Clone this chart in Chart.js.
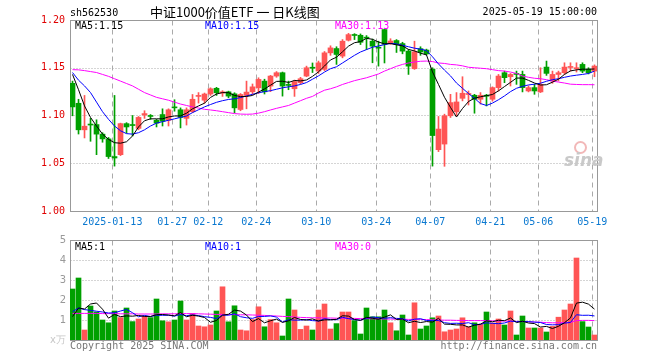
<!DOCTYPE html>
<html><head><meta charset="utf-8">
<script src="https://cdn.jsdelivr.net/npm/chart.js@4.4.1/dist/chart.umd.min.js"></script>
<style>
html,body{margin:0;padding:0;background:#fff;}
#wrap{position:relative;width:660px;height:360px;overflow:hidden;background:#fff;}
canvas{position:absolute;left:0;}
.t{position:absolute;white-space:pre;font-family:'DejaVu Sans Mono',monospace;font-size:10px;line-height:12px;color:#000;}
</style></head><body>
<div id="wrap">
<canvas id="k" width="660" height="236" style="top:0px"></canvas>
<canvas id="v" width="660" height="130" style="top:230px"></canvas>
<div class="t" style="left:70px;top:7px;">sh562530</div>
<div class="t" style="left:150px;top:3px;font-family:'Noto Sans CJK SC',sans-serif;font-size:13px;line-height:18px;">中证1000价值ETF 一 日K线图</div>
<div class="t" style="right:63px;top:6px;">2025-05-19 15:00:00</div>
<div class="t" id="l1" style="left:75px;top:20px;"></div>
<div class="t" id="l2" style="left:205px;top:20px;color:#0000ff;"></div>
<div class="t" id="l3" style="left:335px;top:20px;color:#ff00ff;"></div>
<div class="t" id="v1" style="left:75px;top:241px;"></div>
<div class="t" id="v2" style="left:205px;top:241px;color:#0000ff;"></div>
<div class="t" id="v3" style="left:335px;top:241px;color:#ff00ff;"></div>
<div class="t" style="left:70px;top:340px;color:#777;">Copyright 2025 SINA.COM</div>
<div class="t" style="right:63px;top:340px;color:#777;">http://finance.sina.com.cn</div>
<div style="position:absolute;left:574px;top:141px;width:9px;height:9px;border:2px solid #f2b8b8;border-radius:50%;"></div>
<div class="t" style="left:564px;top:150px;font-family:'DejaVu Sans',sans-serif;font-size:17px;line-height:20px;font-style:italic;font-weight:bold;color:#c9c9c9;">sina</div>
</div>
<script>
const dates = ['2025-01-02','2025-01-03','2025-01-06','2025-01-07','2025-01-08','2025-01-09','2025-01-10','2025-01-13','2025-01-14','2025-01-15','2025-01-16','2025-01-17','2025-01-20','2025-01-21','2025-01-22','2025-01-23','2025-01-24','2025-01-27',
'2025-02-05','2025-02-06','2025-02-07','2025-02-10','2025-02-11','2025-02-12','2025-02-13','2025-02-14','2025-02-17','2025-02-18','2025-02-19','2025-02-20','2025-02-21','2025-02-24','2025-02-25','2025-02-26','2025-02-27','2025-02-28',
'2025-03-03','2025-03-04','2025-03-05','2025-03-06','2025-03-07','2025-03-10','2025-03-11','2025-03-12','2025-03-13','2025-03-14','2025-03-17','2025-03-18','2025-03-19','2025-03-20','2025-03-21','2025-03-24','2025-03-25','2025-03-26','2025-03-27','2025-03-28','2025-03-31',
'2025-04-01','2025-04-02','2025-04-03','2025-04-07','2025-04-08','2025-04-09','2025-04-10','2025-04-11','2025-04-14','2025-04-15','2025-04-16','2025-04-17','2025-04-18','2025-04-21','2025-04-22','2025-04-23','2025-04-24','2025-04-25','2025-04-28','2025-04-29','2025-04-30',
'2025-05-06','2025-05-07','2025-05-08','2025-05-09','2025-05-12','2025-05-13','2025-05-14','2025-05-15','2025-05-16','2025-05-19'];
const open = [1.1337,1.1128,1.085,1.091,1.0905,1.0805,1.0755,1.057,1.059,1.0915,
 1.0905,1.0865,1.1005,1.100,1.095,1.101,1.095,1.109,1.106,1.097,
 1.104,1.120,1.116,1.1225,1.1285,1.1235,1.1248,1.1227,1.1063,1.121,
 1.1248,1.129,1.136,1.1308,1.1413,1.1448,1.1325,1.128,1.1344,1.1413,
 1.1505,1.1465,1.1483,1.1656,1.1701,1.1622,1.1788,1.1845,1.184,1.1815,
 1.1778,1.1712,1.190,1.1752,1.1785,1.1753,1.1674,1.149,1.170,1.1685,
 1.1485,1.0642,1.0701,1.0997,1.1038,1.118,1.122,1.1212,1.117,1.1207,
 1.117,1.1292,1.1448,1.1406,1.1435,1.143,1.1257,1.1292,1.1247,1.1507,
 1.1361,1.143,1.1448,1.1503,1.149,1.1535,1.1483,1.1465];
const high = [1.136,1.117,1.121,1.097,1.0955,1.082,1.077,1.121,1.092,1.0925,
 1.100,1.099,1.105,1.101,1.096,1.107,1.107,1.1165,1.108,1.108,
 1.122,1.124,1.1235,1.129,1.1295,1.126,1.1255,1.1238,1.123,1.136,
 1.133,1.1395,1.138,1.142,1.146,1.1455,1.136,1.137,1.140,1.1517,
 1.155,1.157,1.167,1.173,1.172,1.1795,1.186,1.1857,1.1854,1.1837,
 1.180,1.1778,1.1905,1.1804,1.1795,1.1767,1.1691,1.1778,1.172,1.1695,
 1.150,1.099,1.1014,1.1222,1.124,1.1406,1.1257,1.1222,1.124,1.1222,
 1.130,1.143,1.1465,1.144,1.1465,1.1465,1.131,1.1326,1.150,1.157,
 1.1465,1.1465,1.1552,1.1552,1.1552,1.1552,1.150,1.153];
const low = [1.0997,1.0806,1.0765,1.073,1.059,1.072,1.055,1.047,1.058,1.0815,
 1.0785,1.085,1.097,1.096,1.088,1.089,1.089,1.1045,1.087,1.090,
 1.103,1.113,1.113,1.121,1.121,1.120,1.1185,1.1028,1.105,1.107,
 1.122,1.123,1.1225,1.125,1.140,1.1203,1.127,1.120,1.133,1.1406,
 1.145,1.144,1.147,1.163,1.1535,1.1604,1.178,1.1795,1.1743,1.169,
 1.1552,1.1517,1.155,1.1745,1.166,1.1646,1.143,1.1483,1.163,1.1635,
 1.047,1.0622,1.0468,1.0979,1.0997,1.1153,1.111,1.1024,1.112,1.110,
 1.115,1.1257,1.1344,1.1309,1.1326,1.1247,1.1247,1.1222,1.124,1.142,
 1.1337,1.1361,1.143,1.1465,1.1455,1.1448,1.1435,1.1406];
const close = [1.109,1.085,1.0888,1.090,1.0805,1.0755,1.057,1.0555,1.0915,1.088,
 1.0895,1.098,1.102,1.099,1.092,1.094,1.106,1.108,1.098,1.106,
 1.117,1.121,1.1225,1.128,1.1238,1.1248,1.1203,1.108,1.122,1.1245,
 1.130,1.1378,1.1248,1.1413,1.1448,1.1308,1.1315,1.1355,1.1385,1.150,
 1.1495,1.1552,1.1656,1.1708,1.1639,1.1778,1.1847,1.1838,1.1767,1.181,
 1.1726,1.1705,1.1745,1.178,1.1743,1.1674,1.1517,1.1667,1.1665,1.1645,
 1.079,1.0858,1.0997,1.1135,1.1142,1.1233,1.1225,1.117,1.1212,1.1202,
 1.1292,1.1413,1.1396,1.143,1.143,1.1292,1.1292,1.1257,1.1326,1.1441,
 1.143,1.1448,1.1507,1.1507,1.150,1.1465,1.1448,1.1517];
const ma5 = [1.143,1.127,1.110,1.098,1.089,1.0805,1.075,1.0715,1.071,1.0725,
 1.0785,1.088,1.0945,1.0965,1.0965,1.0965,1.0985,1.0995,1.0996,1.1024,
 1.107,1.110,1.1129,1.1189,1.1225,1.124,1.1239,1.121,1.1198,1.1199,
 1.121,1.1245,1.1278,1.1317,1.1357,1.1359,1.1346,1.1367,1.1362,1.1372,
 1.141,1.1457,1.1518,1.1582,1.161,1.1667,1.1726,1.1762,1.1774,1.1808,
 1.1798,1.1769,1.1751,1.1753,1.174,1.1729,1.1692,1.1676,1.1653,1.1634,
 1.1457,1.1325,1.1191,1.1085,1.0984,1.1073,1.1146,1.1181,1.1196,1.1208,
 1.122,1.1258,1.1303,1.1347,1.1392,1.1392,1.1368,1.134,1.1319,1.1322,
 1.1349,1.138,1.143,1.1467,1.1478,1.1485,1.1485,1.1487];
const ma10 = [1.145,1.137,1.131,1.124,1.114,1.104,1.096,1.089,1.084,1.081,
 1.0805,1.082,1.085,1.089,1.092,1.0935,1.095,1.0965,1.098,1.0995,
 1.103,1.106,1.109,1.1115,1.1138,1.1155,1.1168,1.1175,1.1188,1.1205,
 1.1222,1.1238,1.125,1.126,1.1275,1.129,1.130,1.131,1.1325,1.1345,
 1.138,1.1415,1.1455,1.149,1.151,1.155,1.159,1.163,1.1665,1.169,
 1.1715,1.1728,1.1742,1.1755,1.175,1.1735,1.172,1.1705,1.1695,1.168,
 1.1615,1.154,1.1475,1.1415,1.134,1.1285,1.123,1.118,1.1125,1.1105,
 1.113,1.1165,1.1205,1.125,1.1285,1.1305,1.132,1.1328,1.1338,1.1358,
 1.1375,1.1385,1.140,1.1413,1.1422,1.143,1.144,1.1465];
const ma30 = [1.148,1.1478,1.147,1.146,1.145,1.143,1.141,1.1385,1.136,1.1335,
 1.131,1.1275,1.124,1.1215,1.119,1.1175,1.116,1.114,1.112,1.1105,
 1.109,1.1078,1.1065,1.1058,1.105,1.104,1.103,1.102,1.1015,1.1013,
 1.1015,1.1025,1.104,1.1058,1.1075,1.109,1.1105,1.113,1.1155,1.118,
 1.120,1.1235,1.1265,1.128,1.130,1.1325,1.1345,1.1365,1.138,1.1395,
 1.1415,1.1435,1.1465,1.149,1.1515,1.1535,1.155,1.156,1.1568,1.157,
 1.1565,1.155,1.1545,1.1535,1.153,1.152,1.1505,1.150,1.1495,1.149,
 1.148,1.147,1.1465,1.1455,1.144,1.1413,1.140,1.139,1.1385,1.1375,
 1.136,1.135,1.134,1.1328,1.1325,1.1323,1.1323,1.1322];
const volume = [2.55,3.1,0.5,1.7,1.4,1.0,0.86,1.45,1.12,1.6,
 0.92,1.05,1.2,1.12,2.05,0.96,0.91,1.0,1.95,1.0,
 1.32,0.7,0.66,0.75,1.45,2.66,0.91,1.71,0.5,0.46,
 1.02,1.66,0.66,1.02,0.86,0.2,2.05,1.5,0.53,0.7,
 0.5,1.5,1.8,0.55,0.82,1.4,1.4,0.97,0.3,1.6,
 1.16,1.16,1.5,0.86,0.46,1.25,0.25,1.86,0.55,0.7,
 1.11,1.2,0.41,0.5,0.55,1.11,0.66,0.86,0.78,1.4,
 0.85,1.05,0.75,1.45,0.25,1.2,0.6,0.6,0.6,0.4,
 0.68,1.14,1.5,1.8,4.1,0.92,0.65,0.25];
const vma5 = [1.17,1.6,1.55,1.8,1.85,1.54,1.092,1.282,1.166,1.206,
 1.19,1.228,1.178,1.178,1.268,1.276,1.248,1.208,1.374,1.164,
 1.236,1.194,1.126,0.886,0.976,1.244,1.286,1.496,1.446,1.248,
 0.92,1.07,0.86,0.964,1.044,0.88,0.958,1.126,1.028,0.996,
 1.056,0.946,1.006,1.01,1.034,1.214,1.194,1.028,0.978,1.134,
 1.086,1.038,1.144,1.256,1.028,1.046,0.864,0.936,0.874,0.922,
 0.894,1.084,0.794,0.784,0.754,0.754,0.646,0.736,0.792,0.962,
 0.91,0.988,0.966,1.1,0.87,0.94,0.85,0.82,0.65,0.68,
 0.576,0.684,0.864,1.104,1.844,1.892,1.794,1.544];
const vma10 = [1.42,1.6,1.52,1.48,1.44,1.4,1.35,1.36,1.45,1.528,
 1.365,1.16,1.23,1.172,1.237,1.233,1.238,1.193,1.276,1.216,
 1.256,1.221,1.167,1.13,1.07,1.24,1.24,1.311,1.166,1.112,
 1.082,1.178,1.178,1.205,1.146,0.9,1.014,0.993,0.996,1.02,
 0.968,0.952,1.066,1.019,1.015,1.135,1.07,1.017,0.994,1.084,
 1.15,1.116,1.086,1.117,1.081,1.066,0.951,1.04,1.065,0.975,
 0.97,0.974,0.865,0.829,0.838,0.824,0.865,0.765,0.788,0.858,
 0.832,0.817,0.851,0.946,0.916,0.925,0.919,0.893,0.875,0.775,
 0.758,0.767,0.842,0.877,1.262,1.234,1.239,1.204];
const vma30 = [1.33,1.33,1.33,1.33,1.33,1.32,1.32,1.32,1.31,1.31,
 1.31,1.30,1.30,1.30,1.30,1.31,1.31,1.31,1.32,1.32,
 1.32,1.31,1.30,1.29,1.28,1.28,1.27,1.27,1.26,1.26,
 1.25,1.24,1.23,1.21,1.20,1.18,1.17,1.15,1.13,1.12,
 1.11,1.11,1.10,1.10,1.09,1.09,1.08,1.08,1.07,1.07,
 1.06,1.06,1.05,1.05,1.04,1.04,1.03,1.03,1.03,1.02,
 1.01,1.00,0.99,0.99,0.98,0.98,0.97,0.97,0.97,0.97,
 0.96,0.95,0.95,0.94,0.93,0.92,0.91,0.90,0.89,0.87,
 0.86,0.86,0.87,0.88,0.97,0.98,0.98,0.97];
const priceTicks = [1.00,1.05,1.10,1.15,1.20];
const volTicks = [0,1,2,3,4,5];
const xTickDates = ['2025-01-13','2025-01-27','2025-02-12','2025-02-24','2025-03-10','2025-03-24','2025-04-07','2025-04-21','2025-05-06','2025-05-19'];
const xTickLabels = ['2025-01-13','01-27','02-12','02-24','03-10','03-24','04-07','04-21','05-06','05-19'];

const UP = '#ff5555', DOWN = '#00a000';
const col = open.map((o,i) => close[i] >= o ? UP : DOWN);
const tickIdx = xTickDates.map(d => dates.indexOf(d));
const last = a => a[a.length-1];
document.getElementById('l1').textContent = 'MA5:' + last(ma5).toFixed(2);
document.getElementById('l2').textContent = 'MA10:' + last(ma10).toFixed(2);
document.getElementById('l3').textContent = 'MA30:' + last(ma30).toFixed(2);
document.getElementById('v1').textContent = 'MA5:' + Math.floor(last(vma5));
document.getElementById('v2').textContent = 'MA10:' + Math.floor(last(vma10));
document.getElementById('v3').textContent = 'MA30:' + Math.floor(last(vma30));

const pts = arr => arr.map((v,i) => ({x:i, y:v}));
const XMIN = -0.42, XMAX = dates.length - 0.58, GRID_SHIFT = -0.37;

function framePlugin(hTicks){
  return {
    id:'frame',
    beforeDatasetsDraw(chart){
      const {ctx, chartArea:a, scales} = chart;
      const L = Math.round(a.left)+0.5, R = Math.round(a.right)+0.5, T = Math.round(a.top)+0.5, B = Math.round(a.bottom)+0.5;
      ctx.save();
      ctx.lineWidth = 1;
      ctx.strokeStyle = '#aaaaaa';
      ctx.setLineDash([1,2]);
      hTicks.forEach(v => {
        const y = Math.round(scales.y.getPixelForValue(v))+0.5;
        if (y > T+1 && y < B-1){ ctx.beginPath(); ctx.moveTo(L,y); ctx.lineTo(R,y); ctx.stroke(); }
      });
      ctx.setLineDash([5,4]);
      tickIdx.forEach(i => {
        const x = Math.round(scales.x.getPixelForValue(i + GRID_SHIFT))+0.5;
        ctx.beginPath(); ctx.moveTo(x,T); ctx.lineTo(x,B); ctx.stroke();
      });
      ctx.setLineDash([]);
      ctx.strokeStyle = '#999999';
      ctx.strokeRect(L, T, R-L, B-T);
      ctx.restore();
    }
  };
}

const monoFont = {family:'DejaVu Sans Mono', size:10};
const noGrid = {display:false, drawTicks:false};
const lineDs = (arr, color) => ({type:'line', data:pts(arr), borderColor:color, borderWidth:1, pointRadius:0, fill:false, tension:0, order:0});

new Chart(document.getElementById('k'), {
  type:'bar',
  data:{datasets:[
    lineDs(ma5,'#000000'), lineDs(ma10,'#0000ff'), lineDs(ma30,'#ff00ff'),
    {data: low.map((l,i)=>({x:i, y:[l, high[i]]})), backgroundColor:col, barThickness:1, grouped:false, order:2, borderWidth:0},
    {data: open.map((o,i)=>({x:i, y:[o, close[i]]})), backgroundColor:col, barThickness:5, grouped:false, order:1, borderWidth:0, minBarLength:1}
  ]},
  options:{
    responsive:false, animation:false, devicePixelRatio:1,
    layout:{padding:{left:0,right:63,top:20,bottom:0}},
    plugins:{legend:{display:false}, tooltip:{enabled:false}},
    scales:{
      x:{type:'linear', offset:false, min:XMIN, max:XMAX, grid:noGrid, border:{display:false},
        afterBuildTicks: s => { s.ticks = tickIdx.map(i => ({value: i + GRID_SHIFT})); },
        afterFit: s => { s.height = 25; },
        ticks:{autoSkip:false, maxRotation:0, color:'#0a78d0', font:monoFont, padding:5, callback:(v,k) => xTickLabels[k]}},
      y:{min:priceTicks[0], max:last(priceTicks), grid:noGrid, border:{display:false},
        afterBuildTicks: s => { s.ticks = priceTicks.map(v => ({value:v})); },
        afterFit: s => { s.width = 70; },
        ticks:{color:'#e00000', font:monoFont, padding:5, callback:v => v.toFixed(2)}}
    }
  },
  plugins:[framePlugin(priceTicks)]
});

new Chart(document.getElementById('v'), {
  type:'bar',
  data:{datasets:[
    lineDs(vma5,'#000000'), lineDs(vma10,'#0000ff'), lineDs(vma30,'#ff00ff'),
    {data: pts(volume), backgroundColor:col, barThickness:5, grouped:false, order:1, borderWidth:0}
  ]},
  options:{
    responsive:false, animation:false, devicePixelRatio:1,
    layout:{padding:{left:0,right:63,top:10,bottom:20}},
    plugins:{legend:{display:false}, tooltip:{enabled:false}},
    scales:{
      x:{type:'linear', offset:false, min:XMIN, max:XMAX, display:false},
      y:{min:volTicks[0], max:last(volTicks), grid:noGrid, border:{display:false},
        afterBuildTicks: s => { s.ticks = volTicks.map(v => ({value:v})); },
        afterFit: s => { s.width = 70; },
        ticks:{color: c => c.tick && c.tick.value === 0 ? '#c8c8c8' : '#999999', font:{family:'DejaVu Sans', size:10}, padding:4,
          callback:v => v === 0 ? 'x万' : String(v)}}
    }
  },
  plugins:[framePlugin(volTicks)]
});
</script>
</body></html>
